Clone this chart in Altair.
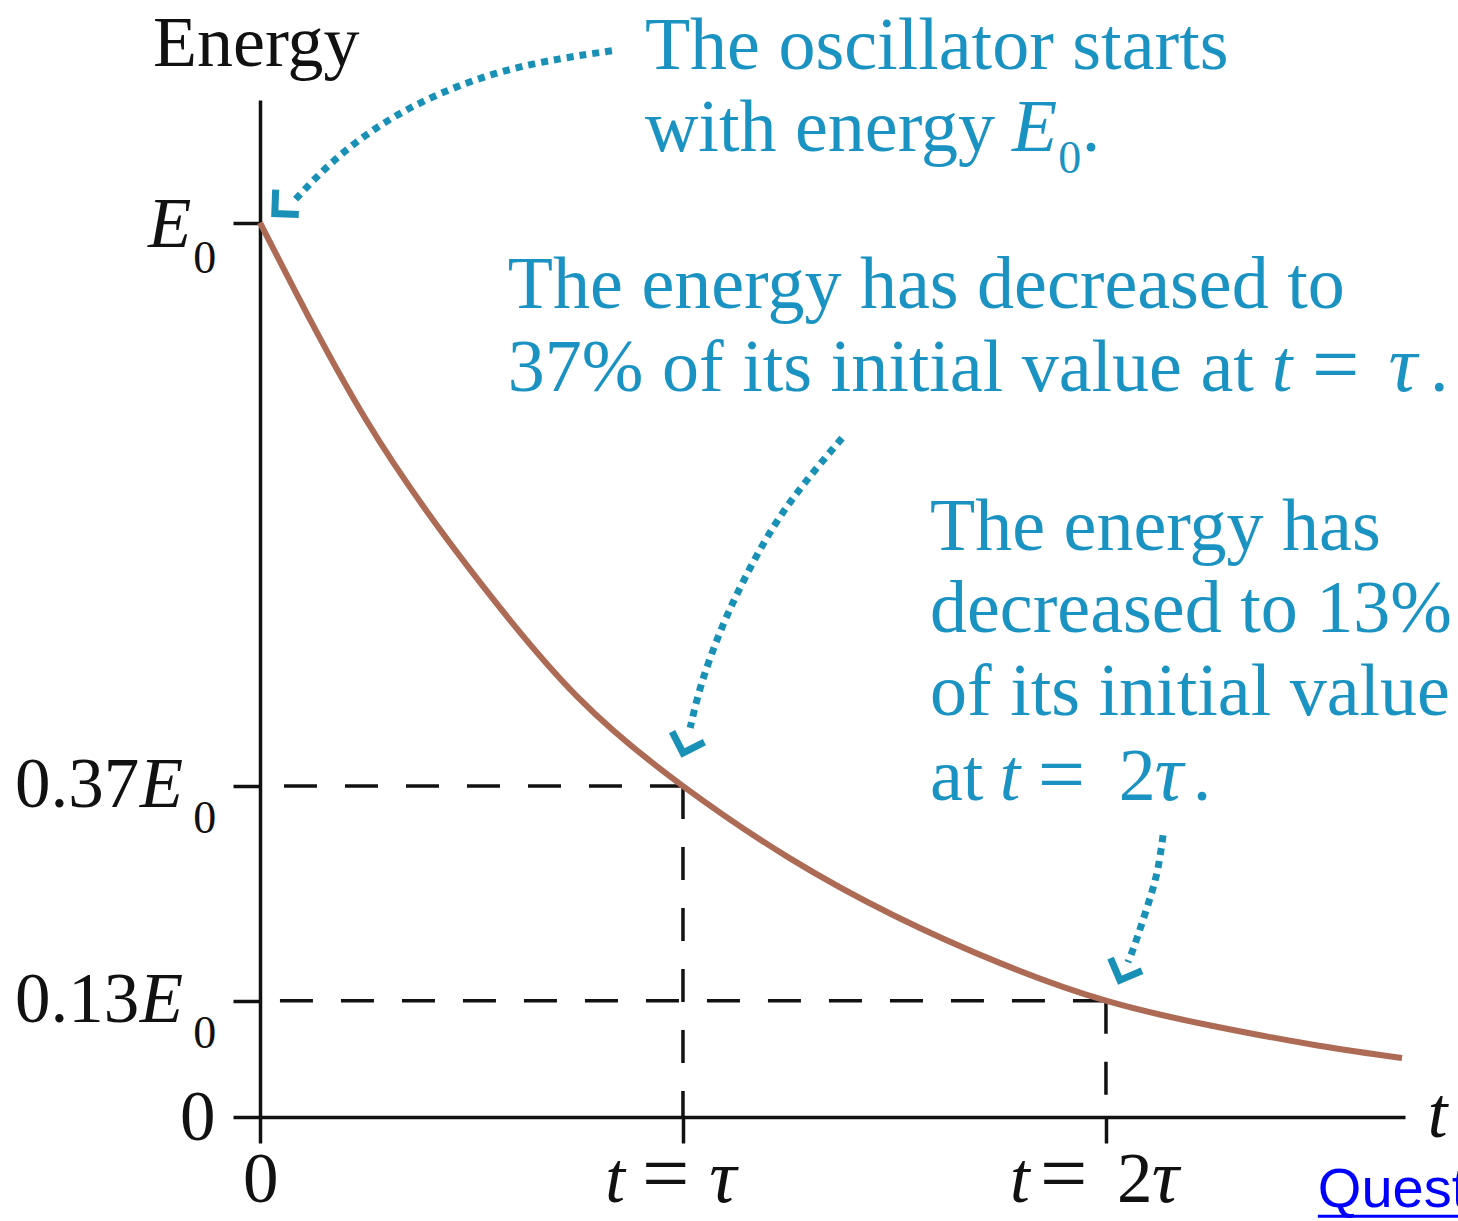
import altair as alt
import pandas as pd

# Energy of a damped oscillator, E / E0 against t / tau
t_values = [0.0, 0.25, 0.5, 0.75, 1.0, 1.25, 1.5, 1.75, 2.0, 2.25, 2.5, 2.7]
energy_values = [1.0, 0.78, 0.61, 0.47, 0.37, 0.29, 0.225, 0.172, 0.13, 0.102, 0.08, 0.066]

# Marked instants and the energy left at each
marked_t = [1, 2]
marked_energy = [0.37, 0.13]

# Axis ticks
x_ticks = [0, 1, 2]
y_ticks = [0, 0.13, 0.37, 1.0]

BLUE = "#1a93c2"
ARROW = "#1990b6"
BROWN = "#ad6b56"
INK = "#111111"
SERIF = "Liberation Serif"

x_scale = alt.Scale(domain=[0, 2.707], nice=False, zero=False)
y_scale = alt.Scale(domain=[0, 1.137], nice=False, zero=False)
x_axis = alt.Axis(values=x_ticks, labels=False, title=None, grid=False,
                  tickSize=26, tickWidth=3.5, tickColor=INK,
                  domainWidth=3.5, domainColor=INK)
y_axis = alt.Axis(values=y_ticks, labels=False, title=None, grid=False,
                  tickSize=27, tickWidth=3.5, tickColor=INK,
                  domainWidth=3.5, domainColor=INK)


def X(field="t"):
    return alt.X(f"{field}:Q", scale=x_scale, axis=x_axis)


def Y(field="e"):
    return alt.Y(f"{field}:Q", scale=y_scale, axis=y_axis)


curve_df = pd.DataFrame({"t": t_values, "e": energy_values})
guide_df = pd.DataFrame({"t": marked_t, "e": marked_energy})

# Dashed guides from the curve to both axes
h_guides = alt.Chart(guide_df).mark_rule(
    color=INK, strokeWidth=3.5, strokeDash=[33, 28]
).encode(x=X(), x2=alt.datum(0), y=Y())

v_guides = alt.Chart(guide_df).mark_rule(
    color=INK, strokeWidth=3.5, strokeDash=[33, 28]
).encode(x=X(), y=Y(), y2=alt.datum(0))

curve = alt.Chart(curve_df).mark_line(
    color=BROWN, strokeWidth=6, interpolate="natural"
).encode(x=X(), y=Y())

# Dotted callout arrows (data units)
arrow_paths = {
    "start": [(0.832, 1.192), (0.709, 1.183), (0.567, 1.168), (0.426, 1.144),
              (0.296, 1.112), (0.177, 1.070), (0.076, 1.022)],
    "tau": [(1.376, 0.759), (1.288, 0.709), (1.213, 0.659), (1.147, 0.603),
            (1.092, 0.547), (1.045, 0.486), (1.017, 0.435)],
    "two_tau": [(2.135, 0.315), (2.121, 0.274), (2.097, 0.234), (2.069, 0.194),
                (2.052, 0.173)],
}
arrow_rows = []
for name, pts in arrow_paths.items():
    for i, (tt, ee) in enumerate(pts):
        arrow_rows.append({"arrow": name, "i": i, "t": tt, "e": ee})
arrow_df = pd.DataFrame(arrow_rows)

arrow_lines = alt.Chart(arrow_df).mark_line(
    color=ARROW, strokeWidth=7, strokeDash=[7, 6], strokeCap="butt",
    interpolate="natural"
).encode(x=X(), y=Y(), detail="arrow:N", order="i:Q")

head_df = pd.DataFrame({
    "t": [0.035, 1.000, 2.033],
    "e": [1.010, 0.407, 0.153],
    "angle": [137, 108, 112],
})
arrow_heads = alt.Chart(head_df).mark_point(
    shape="M -1 -1 L 0 0 L -1 1", filled=False, strokeWidth=7,
    strokeJoin="miter", size=1150, color=ARROW, opacity=1
).encode(x=X(), y=Y(), angle=alt.Angle("angle:Q", scale=None))

# Text runs: (text, t, e, font size, italic, colour)
LX = -0.095  # baseline of the time labels
runs = [
    ("Energy", -0.253, 1.175, 72, False, INK),
    # y-axis labels
    ("E", -0.265, 0.973, 71, True, INK),
    ("0", -0.158, 0.944, 46, False, INK),
    ("0.37", -0.579, 0.347, 71, False, INK),
    ("E", -0.284, 0.347, 71, True, INK),
    ("0", -0.158, 0.318, 46, False, INK),
    ("0.13", -0.579, 0.106, 71, False, INK),
    ("E", -0.284, 0.106, 71, True, INK),
    ("0", -0.158, 0.077, 46, False, INK),
    ("0", -0.189, -0.026, 71, False, INK),
    # x-axis labels
    ("0", -0.040, LX, 71, False, INK),
    ("t", 0.816, LX, 71, True, INK),
    ("=", 0.903, LX, 84, False, INK),
    ("τ", 1.062, LX, 76, True, INK),
    ("t", 1.773, LX, 71, True, INK),
    ("=", 1.844, LX, 84, False, INK),
    ("2", 2.026, LX, 71, False, INK),
    ("τ", 2.108, LX, 76, True, INK),
    ("t", 2.761, -0.022, 71, True, INK),
    # callouts
    ("The oscillator starts", 0.910, 1.172, 74, False, BLUE),
    ("with energy", 0.910, 1.080, 74, False, BLUE),
    ("E", 1.778, 1.080, 74, True, BLUE),
    ("0", 1.887, 1.055, 46, False, BLUE),
    (".", 1.943, 1.080, 74, False, BLUE),
    ("The energy has decreased to", 0.586, 0.905, 74, False, BLUE),
    ("37% of its initial value at", 0.586, 0.812, 74, False, BLUE),
    ("t", 2.392, 0.812, 74, True, BLUE),
    ("=", 2.487, 0.809, 84, False, BLUE),
    ("τ", 2.668, 0.812, 80, True, BLUE),
    (".", 2.766, 0.812, 74, False, BLUE),
    ("The energy has", 1.584, 0.634, 74, False, BLUE),
    ("decreased to 13%", 1.584, 0.542, 74, False, BLUE),
    ("of its initial value", 1.584, 0.449, 74, False, BLUE),
    ("at", 1.584, 0.354, 74, False, BLUE),
    ("t", 1.749, 0.354, 74, True, BLUE),
    ("=", 1.839, 0.351, 84, False, BLUE),
    ("2", 2.030, 0.354, 74, False, BLUE),
    ("τ", 2.115, 0.354, 80, True, BLUE),
    (".", 2.205, 0.354, 74, False, BLUE),
]
text_df = pd.DataFrame(runs, columns=["text", "t", "e", "size", "italic", "color"])


def text_layer(italic):
    return alt.Chart(text_df).transform_filter(
        alt.datum.italic == italic
    ).mark_text(
        align="left", baseline="alphabetic", font=SERIF,
        fontStyle="italic" if italic else "normal"
    ).encode(
        x=X(), y=Y(), text="text:N",
        size=alt.Size("size:Q", scale=None),
        color=alt.Color("color:N", scale=None),
    )


link_df = pd.DataFrame({"text": ["Question"], "t": [2.501], "e": [-0.101],
                        "t2": [2.95], "eu": [-0.111]})
link_text = alt.Chart(link_df).mark_text(
    align="left", baseline="alphabetic", font="Liberation Sans",
    fontSize=56, color="#0000ff"
).encode(x=X(), y=Y(), text="text:N")
link_rule = alt.Chart(link_df).mark_rule(color="#0000ff", strokeWidth=3).encode(
    x=X(), x2="t2:Q", y=Y("eu")
)

chart = alt.layer(
    h_guides, v_guides, curve, arrow_lines, arrow_heads,
    text_layer(False), text_layer(True), link_text, link_rule
).properties(
    width=1145, height=1017,
    padding={"left": 260, "top": 100, "right": 53, "bottom": 104},
    autosize=alt.AutoSizeParams(type="none"),
    background="white",
).configure_view(stroke=None)

chart.save("out.html", embed_options={"renderer": "svg", "actions": False})
